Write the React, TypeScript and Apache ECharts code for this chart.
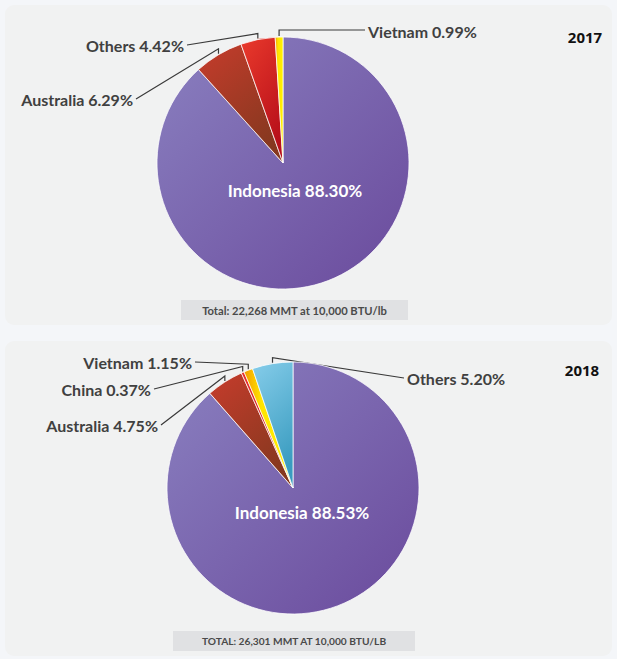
import React, { useEffect, useRef } from "react";
import * as echarts from "echarts";

// ---- data ----
const years = ["2017", "2018"];
const names2017 = ["Indonesia", "Australia", "Others", "Vietnam"];
const values2017 = [88.3, 6.29, 4.42, 0.99];
const names2018 = ["Indonesia", "Australia", "China", "Vietnam", "Others"];
const values2018 = [88.53, 4.75, 0.37, 1.15, 5.2];
const totals = [
  "Total: 22,268 MMT at 10,000 BTU/lb",
  "TOTAL: 26,301 MMT AT 10,000 BTU/LB",
];

// ---- styles ----
const grad = (stops: [number, string][], x2 = 1, y2 = 1) =>
  new echarts.graphic.LinearGradient(
    0,
    0,
    x2,
    y2,
    stops.map(([offset, color]) => ({ offset, color }))
  );

const sliceColors: Record<string, any> = {
  Indonesia: () => grad([[0, "#8a80c0"], [1, "#6a4a9c"]]),
  Australia: () => grad([[0, "#c63c2c"], [1, "#86381f"]], 0.6, 1),
  Others2017: () => grad([[0, "#ea3a2c"], [1, "#b8101a"]], 0.5, 1),
  Vietnam: () => grad([[0, "#f39a00"], [0.35, "#ffe400"], [1, "#fff200"]], 1, 0),
  China: () => grad([[0, "#ea3030"], [1, "#c01818"]]),
  Others2018: () => grad([[0, "#86cdea"], [1, "#3a9cc0"]], 0.3, 1),
};

const FONT = "Lato";
const LABEL_COLOR = "#404040";

type Pos = { x: number; y: number; align: "left" | "right" | "center"; flat?: boolean };
const labelPos2017: Pos[] = [
  { x: 295, y: 190, align: "center" },
  { x: 133, y: 99, align: "right" },
  { x: 184, y: 45, align: "right" },
  { x: 368, y: 31, align: "left", flat: true },
];
const labelPos2018: Pos[] = [
  { x: 302, y: 512, align: "center" },
  { x: 158, y: 425, align: "right" },
  { x: 151, y: 389, align: "right" },
  { x: 192, y: 362, align: "right" },
  { x: 407, y: 378, align: "left" },
];

function makeLayout(positions: Pos[]) {
  return (params: any) => {
    const p = positions[params.dataIndex];
    if (!p) return {};
    const res: any = { x: p.x, y: p.y, align: p.align, verticalAlign: "middle" };
    const pts = params.labelLinePoints;
    if (pts && pts.length) {
      const s = pts[0];
      const endX = p.align === "right" ? p.x + 3 : p.x - 3;
      const elbowY = p.flat ? p.y - 1 : s[1] - 6;
      res.labelLinePoints = [
        [s[0], s[1] - 1],
        [s[0], elbowY],
        [endX, p.flat ? p.y - 1 : p.y],
      ];
    }
    return res;
  };
}

function buildData(names: string[], values: number[], year: string) {
  return names.map((n, i) => {
    const key = n === "Others" ? "Others" + year : n;
    const inside = n === "Indonesia";
    return {
      name: n,
      value: values[i],
      itemStyle: { color: sliceColors[key]() },
      label: inside
        ? { position: "inside", color: "#ffffff", fontSize: 17 }
        : { position: "outside", color: LABEL_COLOR, fontSize: 16 },
      labelLine: { show: !inside },
    };
  });
}

function pieSeries(names: string[], values: number[], year: string, center: number[], positions: Pos[]) {
  return {
    type: "pie",
    center,
    radius: 126,
    startAngle: 90,
    clockwise: true,
    avoidLabelOverlap: false,
    silent: true,
    itemStyle: { borderColor: "rgba(255,255,255,0.75)", borderWidth: 1 },
    label: {
      show: true,
      fontFamily: FONT,
      fontWeight: "bold",
      formatter: (p: any) => `${p.name} ${Number(p.value).toFixed(2)}%`,
    },
    labelLine: {
      show: true,
      length: 10,
      length2: 10,
      lineStyle: { color: "#3a3a3a", width: 1.2 },
    },
    labelLayout: makeLayout(positions),
    data: buildData(names, values, year),
  };
}

export default function App() {
  const ref = useRef<HTMLDivElement>(null);
  useEffect(() => {
    if (!ref.current) return;
    const chart = echarts.init(ref.current, undefined, { renderer: "svg" });
    const panel = (y: number, h: number) => ({
      type: "rect",
      shape: { x: 5, y, width: 607, height: h, r: 9 },
      style: { fill: "#f1f2f2" },
      z: -10,
    });
    const yearText = (t: string, x: number, y: number) => ({
      type: "text",
      x,
      y,
      style: {
        text: t,
        fill: "#111111",
        font: 'bold 15px "Open Sans"',
        align: "center",
        verticalAlign: "middle",
      },
    });
    const totalBox = (t: string, x: number, y: number, w: number, fs: number) => ({
      type: "group",
      children: [
        {
          type: "rect",
          shape: { x, y, width: w, height: 20 },
          style: { fill: "#e0e1e3" },
        },
        {
          type: "text",
          x: x + w / 2,
          y: y + 10,
          style: {
            text: t,
            fill: "#4a4a4a",
            font: `bold ${fs}px ${FONT}`,
            align: "center",
            verticalAlign: "middle",
          },
        },
      ],
    });
    chart.setOption({
      animation: false,
      backgroundColor: "#f4f6f9",
      graphic: [
        panel(5, 320),
        panel(341, 315),
        yearText(years[0], 585, 37),
        yearText(years[1], 582, 370),
        totalBox(totals[0], 181, 300, 227, 11.2),
        totalBox(totals[1], 173, 631, 242, 10.2),
      ],
      series: [
        pieSeries(names2017, values2017, "2017", [283, 163], labelPos2017),
        pieSeries(names2018, values2018, "2018", [293, 488], labelPos2018),
      ],
    });
    return () => chart.dispose();
  }, []);
  return (
    <div
      ref={ref}
      style={{ position: "fixed", left: 0, top: 0, width: 617, height: 659 }}
    />
  );
}
